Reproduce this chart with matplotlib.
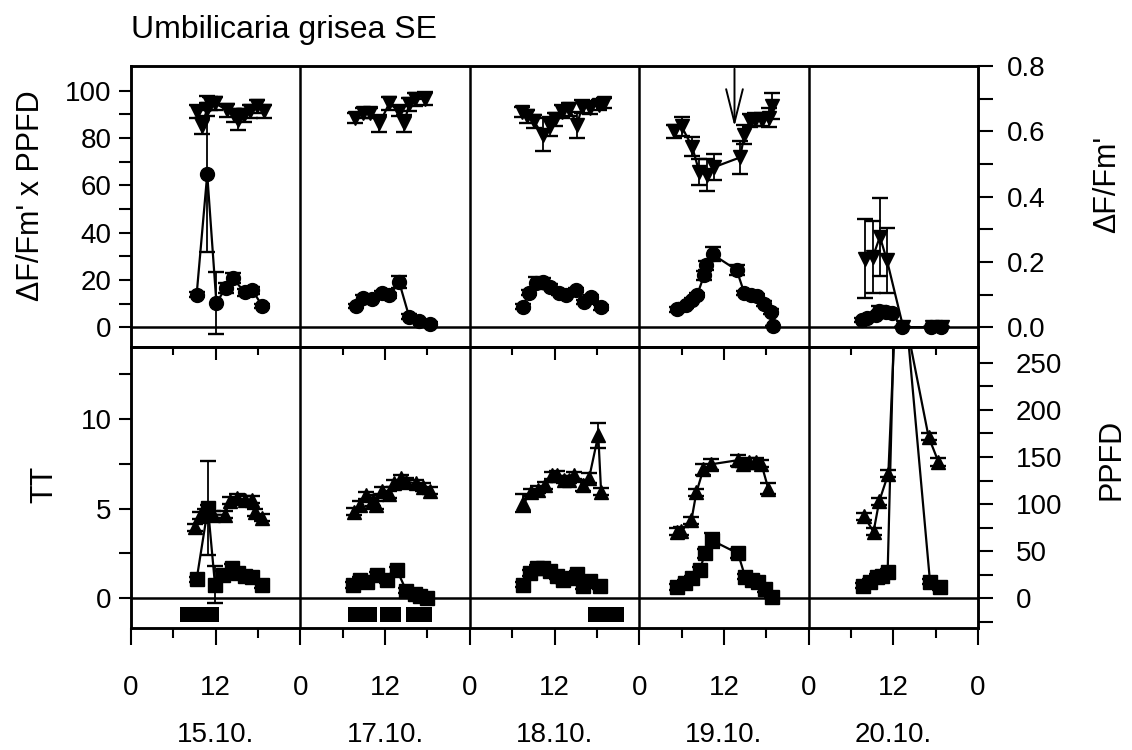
import numpy as np
import matplotlib
matplotlib.use('Agg')
import matplotlib.pyplot as plt
from matplotlib.transforms import blended_transform_factory

plt.rcParams['font.family'] = ['Liberation Sans', 'DejaVu Sans']

# hours counted from 0:00 of the first plotted day, one sub-list per day
# top panel: dF/Fm' x PPFD (circles, left axis)
ypp_t = [[9.3, 10.8, 12.1, 13.4, 14.4, 16.1, 17.2, 18.6],
         [31.9, 32.8, 34.2, 35.5, 36.6, 38.0, 39.4, 40.8, 42.3],
         [55.5, 56.4, 57.4, 58.3, 59.3, 60.7, 61.7, 63.1, 64.2, 65.2, 66.6],
         [77.4, 78.7, 79.5, 80.2, 81.2, 81.5, 82.4, 85.8, 86.9, 87.9, 88.7, 89.7, 90.7, 91.0],
         [103.6, 104.3, 105.6, 106.0, 107.0, 107.8, 109.2, 113.4, 114.8]]
ypp_v = [[13.8, 64.7, 10.2, 16.6, 20.8, 14.8, 15.7, 8.9],
         [9.0, 12.5, 12.0, 14.5, 13.5, 19.0, 4.5, 2.5, 1.5],
         [8.7, 14.6, 18.8, 19.2, 17.1, 14.5, 13.6, 15.7, 10.6, 12.7, 8.4],
         [7.6, 9.3, 11.5, 13.6, 21.9, 26.1, 30.8, 24.2, 14.4, 13.5, 13.0, 10.0, 6.6, 0.3],
         [3.0, 4.0, 5.0, 7.0, 6.4, 6.0, 0.0, 0.0, 0.0]]
ypp_e = [[1, 33, 13, 2, 2, 1.5, 1.5, 1],
         [1, 1, 1, 1, 1, 2.5, 1, 0.5, 0.5],
         [1, 1, 2.5, 1.5, 1, 1, 1, 1, 1, 1, 1],
         [1, 1, 1, 1, 2, 2, 3, 2, 1, 1, 1, 1, 1, 0],
         [1, 1, 1, 2, 1, 1, 0, 0, 0]]

# top panel: dF/Fm' (down triangles, right axis)
yld_t = [[9.4, 10.0, 10.8, 11.2, 11.9, 13.6, 14.6, 15.1, 16.0, 16.9, 17.9, 18.9],
         [31.8, 32.8, 33.9, 35.2, 36.6, 38.0, 38.7, 39.4, 40.3, 41.7],
         [55.4, 56.1, 57.1, 58.3, 59.3, 60.0, 61.1, 62.1, 63.2, 63.9, 65.1, 66.3, 67.0],
         [77.0, 78.0, 79.5, 80.5, 81.6, 82.6, 86.3, 86.9, 87.7, 88.4, 89.4, 90.4, 90.8],
         [104.0, 105.1, 106.1, 107.1, 109.4, 113.5, 114.9]]
yld_v = [[0.66, 0.617, 0.668, 0.685, 0.686, 0.665, 0.649, 0.634, 0.649, 0.661, 0.677, 0.661],
         [0.64, 0.655, 0.655, 0.624, 0.686, 0.661, 0.624, 0.683, 0.698, 0.70],
         [0.66, 0.646, 0.63, 0.59, 0.615, 0.637, 0.66, 0.668, 0.62, 0.675, 0.672, 0.68, 0.686],
         [0.60, 0.615, 0.553, 0.476, 0.466, 0.49, 0.52, 0.59, 0.633, 0.636, 0.636, 0.642, 0.678],
         [0.21, 0.215, 0.277, 0.205, 0.0, 0.0, 0.0]]
yld_e = [[0.02, 0.025, 0.02, 0.02, 0.02, 0.02, 0.02, 0.03, 0.02, 0.02, 0.02, 0.02],
         [0.015, 0.015, 0.015, 0.025, 0.02, 0.015, 0.025, 0.02, 0.02, 0.02],
         [0.015, 0.02, 0.02, 0.05, 0.03, 0.02, 0.02, 0.02, 0.04, 0.02, 0.02, 0.015, 0.015],
         [0.02, 0.03, 0.03, 0.04, 0.05, 0.04, 0.05, 0.03, 0.02, 0.02, 0.02, 0.03, 0.04],
         [0.12, 0.11, 0.12, 0.10, 0, 0, 0]]

# bottom panel: TT (up triangles, left axis)
tt_t = [[9.1, 9.8, 10.5, 10.9, 11.6, 13.3, 14.0, 15.0, 16.1, 17.1, 17.6, 18.6],
        [31.6, 32.4, 33.3, 34.3, 34.7, 35.5, 36.5, 37.3, 38.3, 39.0, 40.4, 41.4, 42.3],
        [55.6, 56.7, 57.7, 58.6, 59.6, 60.3, 61.3, 62.1, 62.8, 64.1, 64.9, 66.2, 66.6],
        [77.3, 77.9, 79.4, 80.1, 81.1, 82.2, 86.0, 86.7, 87.6, 88.6, 89.3, 90.3],
        [103.9, 105.2, 106.0, 107.3, 108.5, 113.0, 114.4]]
tt_v = [[3.96, 4.6, 4.78, 4.9, 4.66, 4.65, 5.43, 5.6, 5.5, 5.5, 4.8, 4.5],
        [4.82, 5.2, 5.75, 5.45, 5.2, 6.0, 5.8, 6.4, 6.7, 6.5, 6.4, 6.2, 6.0],
        [5.3, 5.9, 6.05, 6.3, 6.85, 6.9, 6.6, 6.6, 6.85, 6.3, 6.7, 9.1, 5.95],
        [3.7, 3.75, 4.35, 5.9, 7.2, 7.47, 7.7, 7.5, 7.6, 7.6, 7.5, 6.1],
        [4.56, 3.7, 5.4, 6.95, 18.0, 9.0, 7.6]]
tt_e = [[0.2, 0.2, 0.2, 0.3, 0.2, 0.2, 0.2, 0.2, 0.2, 0.2, 0.2, 0.2],
        [0.2, 0.2, 0.2, 0.3, 0.2, 0.2, 0.2, 0.2, 0.2, 0.2, 0.2, 0.2, 0.2],
        [0.5, 0.2, 0.2, 0.2, 0.2, 0.2, 0.2, 0.2, 0.2, 0.3, 0.3, 0.7, 0.2],
        [0.2, 0.2, 0.2, 0.2, 0.3, 0.3, 0.3, 0.2, 0.2, 0.2, 0.2, 0.3],
        [0.2, 0.2, 0.2, 0.2, 0, 0.2, 0.2]]

# bottom panel: PPFD (squares, right axis)
pp_t = [[9.3, 10.9, 11.9, 13.0, 14.3, 15.2, 16.1, 17.1, 18.6],
        [31.4, 32.4, 33.5, 34.9, 36.2, 37.7, 39.0, 40.2, 40.9, 42.0],
        [55.5, 56.5, 57.5, 58.4, 59.3, 60.3, 61.2, 62.5, 63.2, 64.0, 65.0, 66.4],
        [77.3, 78.5, 79.5, 80.6, 81.3, 82.3, 86.0, 87.0, 88.0, 88.8, 89.8, 90.8],
        [103.7, 104.7, 105.7, 106.4, 107.2, 108.5, 113.2, 114.6]]
pp_v = [[20, 96, 14.4, 25, 32, 27, 24, 22, 14],
        [14, 19, 17, 24.5, 19, 29.5, 8, 4.8, 2.6, 0.5],
        [14.5, 27, 32, 32, 29, 23.5, 19, 21, 26, 13, 18, 13],
        [11.8, 15.8, 21, 29.6, 47.7, 61.4, 47.5, 23, 19.6, 17.4, 10, 1.7],
        [13.4, 17.6, 23, 24, 27.9, 410, 17.6, 12.2]]
pp_e = [[3, 50, 20, 4, 4, 3, 3, 3, 3],
        [3, 3, 3, 3, 3, 4, 3, 2, 2, 1],
        [3, 3, 3, 3, 3, 3, 3, 3, 3, 3, 3, 3],
        [3, 3, 3, 4, 5, 8, 5, 3, 3, 3, 3, 2],
        [3, 3, 3, 3, 3, 0, 3, 3]]

# black bars below the TT zero line
bar_start = [6.9, 30.7, 35.3, 38.9, 64.7]
bar_end = [12.4, 34.9, 38.3, 42.7, 69.8]

day_names = ['15.10.', '17.10.', '18.10.', '19.10.', '20.10.']
arrow_hour, arrow_tip = 85.5, 0.606

fig = plt.figure(figsize=(11.32, 7.5), dpi=100)
L, W = 131 / 1132, 847 / 1132
ax_t = fig.add_axes([L, 0.537, W, 0.375])
ax_b = fig.add_axes([L, 0.163, W, 0.374])
ax_tr = ax_t.twinx()
ax_br = ax_b.twinx()

st = dict(color='k', ms=10, lw=1.6, capsize=6, elinewidth=1.3, capthick=1.7)
for i in range(5):
    ax_t.errorbar(ypp_t[i], ypp_v[i], yerr=ypp_e[i], fmt='-o', **st)
    ax_tr.errorbar(yld_t[i], yld_v[i], yerr=yld_e[i], fmt='-v', **st)
    ax_b.errorbar(tt_t[i], tt_v[i], yerr=tt_e[i], fmt='-^', **st)
    ax_br.errorbar(pp_t[i], pp_v[i], yerr=pp_e[i], fmt='-s', **st)

ax_b.bar(bar_start, 0.85, width=np.subtract(bar_end, bar_start), bottom=-1.35,
         align='edge', color='k')

ax_tr.annotate('', xy=(arrow_hour, arrow_tip), xytext=(arrow_hour, 0.8),
               arrowprops=dict(arrowstyle='->,head_length=1.2,head_width=0.3',
                               color='k', lw=1.4, mutation_scale=20))

for ax in (ax_t, ax_b):
    ax.set_xlim(0, 120)
    ax.axhline(0, color='k', lw=1.8)
    for d in (24, 48, 72, 96):
        ax.axvline(d, color='k', lw=1.8)

ax_t.set_ylim(-8.5, 110.5)
ax_tr.set_ylim(-8.5 / 138, 0.8)
ax_b.set_ylim(-1.65, 14.0)
ax_br.set_ylim(-1.65 * 19.04, 14.0 * 19.04)

for ax in (ax_t, ax_b, ax_tr, ax_br):
    for s in ax.spines.values():
        s.set_linewidth(1.8)

# y ticks
ax_t.set_yticks(range(0, 101, 20))
ax_t.set_yticks(range(10, 91, 20), minor=True)
ax_tr.set_yticks(np.arange(0, 0.81, 0.2))
ax_tr.set_yticklabels(['0.0', '0.2', '0.4', '0.6', '0.8'])
ax_tr.set_yticks(np.arange(0.1, 0.71, 0.2), minor=True)
ax_b.set_yticks([0, 5, 10])
ax_b.set_yticks([2.5, 7.5, 12.5], minor=True)
ax_br.set_yticks(range(0, 251, 50))
ax_br.set_yticks(range(-25, 251, 50), minor=True)

for ax in (ax_t, ax_b):
    ax.tick_params(axis='y', which='both', length=9, width=1.5, labelsize=20, pad=5)
ax_tr.tick_params(axis='y', which='both', length=11, width=1.5, labelsize=20, pad=10)
ax_br.tick_params(axis='y', which='both', length=11, width=1.5, labelsize=20, pad=16)

# x ticks
ax_t.tick_params(axis='x', which='both', bottom=False, labelbottom=False)
ax_b.set_xticks(range(0, 121, 12))
ax_b.set_xticklabels(['0' if h % 24 == 0 else '12' for h in range(0, 121, 12)])
ax_b.set_xticks(range(6, 120, 12), minor=True)
ax_b.tick_params(axis='x', which='major', length=12, width=1.5, labelsize=20, pad=22)
ax_b.tick_params(axis='x', which='minor', length=7, width=1.5)
sec = ax_b.secondary_xaxis('top')
sec.set_xticks([12, 36, 60, 84, 108])
sec.set_xticks([6, 18, 30, 42, 54, 66, 78, 90, 102, 114], minor=True)
sec.tick_params(which='major', direction='in', length=9, width=1.5, labeltop=False)
sec.tick_params(which='minor', direction='in', length=6, width=1.5, labeltop=False)

# labels
ax_t.set_ylabel("\u0394F/Fm' x PPFD", fontsize=22)
ax_t.yaxis.set_label_coords(-0.1, 0.54)
ax_tr.set_ylabel("\u0394F/Fm'", fontsize=22, rotation=90)
ax_tr.yaxis.set_label_coords(1.135, 0.58)
ax_b.set_ylabel('TT', fontsize=22)
ax_b.yaxis.set_label_coords(-0.085, 0.51)
ax_br.set_ylabel('PPFD', fontsize=22, rotation=90)
ax_br.yaxis.set_label_coords(1.14, 0.6)

fig.text(131 / 1132, 1 - 30 / 750, 'Umbilicaria grisea SE', ha='left', va='center', fontsize=23)
tr = blended_transform_factory(ax_b.transData, fig.transFigure)
for k, name in enumerate(day_names):
    ax_b.text(12 + 24 * k, 1 - 735 / 750, name, transform=tr, ha='center', va='center', fontsize=20)

fig.savefig('out.png', dpi=100)
